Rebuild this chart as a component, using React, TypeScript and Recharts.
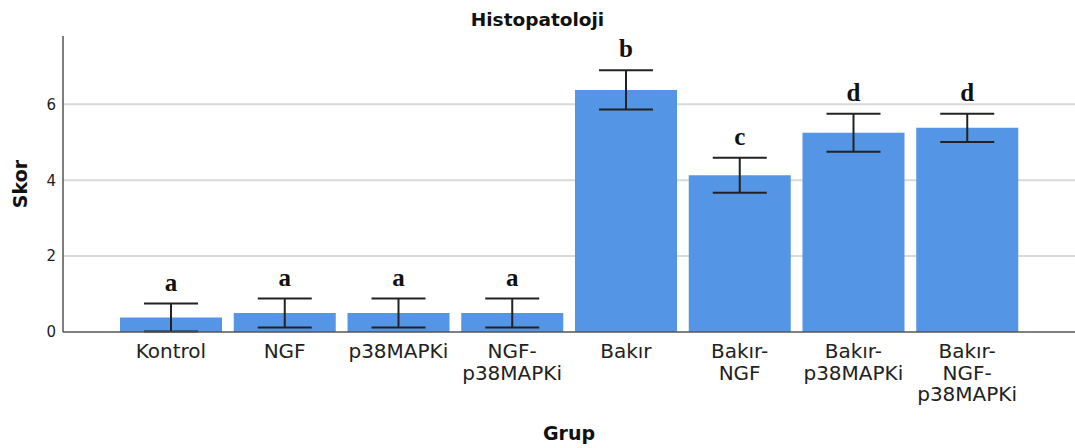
import React from 'react';
import { BarChart, Bar, XAxis, YAxis, CartesianGrid, ErrorBar, LabelList, Label } from 'recharts';

if (typeof document !== 'undefined') document.body.style.margin = '0';

const groups = ['Kontrol', 'NGF', 'p38MAPKi', 'NGF-\np38MAPKi', 'Bakır', 'Bakır-\nNGF', 'Bakır-\np38MAPKi', 'Bakır-\nNGF-\np38MAPKi'];
const means = [0.38, 0.5, 0.5, 0.5, 6.38, 4.13, 5.25, 5.38];
const errors = [0.37, 0.38, 0.38, 0.38, 0.52, 0.46, 0.5, 0.37];
const letters = ['a', 'a', 'a', 'a', 'b', 'c', 'd', 'd'];
const yTicks = [0, 2, 4, 6];
const gridValues = [2, 4, 6];

const data = groups.map((g, i) => ({ group: g, mean: means[i], err: errors[i], letter: letters[i] }));

const FONT = 'DejaVu Sans';

const CatTick = (props: any) => {
  const { x, y, payload } = props;
  const lines = String(payload.value).split('\n');
  return (
    <text x={x} y={y} textAnchor="middle" fontFamily={FONT} fontSize={20} fill="#222">
      {lines.map((l, i) => (
        <tspan key={i} x={x} y={y + 26 + i * 21.7}>{l}</tspan>
      ))}
    </text>
  );
};

const LetterLabel = (props: any) => {
  const { x, y, width, height, index } = props;
  const d = data[index];
  const pxPerUnit = height / d.mean;
  const errTop = y - d.err * pxPerUnit;
  return (
    <text x={x + width / 2} y={errTop - 13} textAnchor="middle" fontFamily="Liberation Serif" fontWeight="bold" fontSize={25} fill="#111">
      {d.letter}
    </text>
  );
};

export default function App() {
  return (
    <div style={{ position: 'relative', width: 1075, height: 448, background: '#fff' }}>
      <div style={{ position: 'absolute', left: 0, top: 11, width: 1075, textAlign: 'center', fontFamily: FONT, fontWeight: 'bold', fontSize: 18.5, lineHeight: '18px', color: '#111' }}>
        Histopatoloji
      </div>
      <BarChart width={1075} height={448} data={data} margin={{ top: 36, right: 0, bottom: 0, left: 0 }}>
        <CartesianGrid horizontal vertical={false} horizontalValues={gridValues} stroke="#d9d9d9" strokeWidth={2} />
        <XAxis
          dataKey="group"
          height={116}
          interval={0}
          tickLine={false}
          tickSize={0}
          tickMargin={0}
          padding={{ left: 51, right: 51 }}
          axisLine={{ stroke: '#555', strokeWidth: 1.5 }}
          tick={<CatTick />}
        >
          <Label
            content={(p: any) => {
              const vb = p.viewBox;
              return (
                <text x={vb.x + vb.width / 2} y={440} textAnchor="middle" fontFamily={FONT} fontWeight="bold" fontSize={19} fill="#111">
                  Grup
                </text>
              );
            }}
          />
        </XAxis>
        <YAxis
          width={63}
          domain={[0, 7.8]}
          ticks={yTicks}
          tickLine={false}
          tickSize={0}
          tickMargin={7}
          axisLine={{ stroke: '#555', strokeWidth: 1.5 }}
          tick={{ fontSize: 15, fill: '#222', fontFamily: FONT }}
        >
          <Label
            content={(p: any) => {
              const vb = p.viewBox;
              const cy = vb.y + vb.height / 2;
              return (
                <text x={27} y={cy} transform={`rotate(-90, 27, ${cy})`} textAnchor="middle" fontFamily={FONT} fontWeight="bold" fontSize={19} fill="#111">
                  Skor
                </text>
              );
            }}
          />
        </YAxis>
        <Bar dataKey="mean" fill="#5495E5" barSize={102} isAnimationActive={false}>
          <ErrorBar dataKey="err" width={27} stroke="#222" strokeWidth={2} />
          <LabelList dataKey="letter" content={<LetterLabel />} />
        </Bar>
      </BarChart>
    </div>
  );
}
